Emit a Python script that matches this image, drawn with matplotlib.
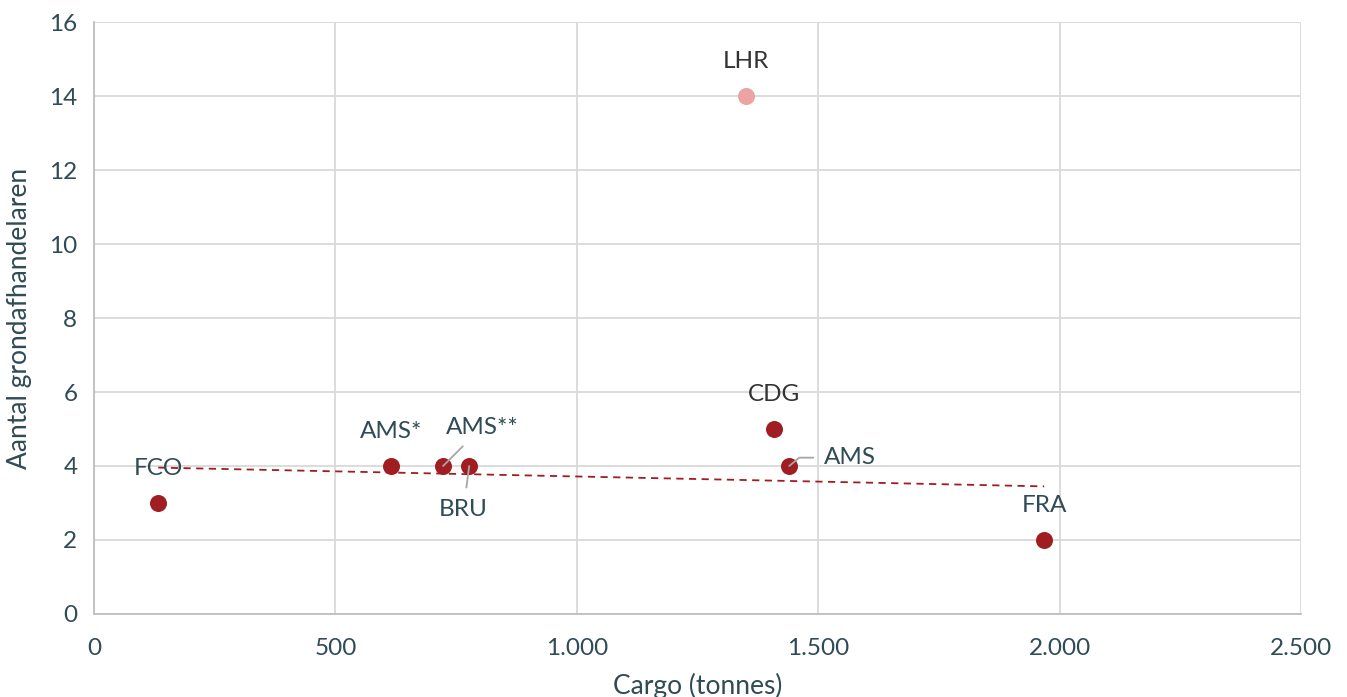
import numpy as np
import matplotlib.pyplot as plt
from matplotlib.ticker import FuncFormatter

# data
labels = ['FCO', 'AMS*', 'AMS**', 'BRU', 'LHR', 'CDG', 'AMS', 'FRA']
cargo = [133, 615, 723, 777, 1350, 1408, 1440, 1968]
handelaren = [3, 4, 4, 4, 14, 5, 4, 2]
highlight = [False, False, False, False, True, False, False, False]

red = '#A01E22'
pink = '#EBA3A3'
txt = '#2F4B55'

plt.rcParams['font.family'] = ['Lato', 'DejaVu Sans']

fig = plt.figure(figsize=(13.47, 6.97), dpi=100)
ax = fig.add_axes([0.0698, 0.1191, 0.8961, 0.8493])

x = np.array(cargo)
y = np.array(handelaren)
h = np.array(highlight)

ax.scatter(x[~h], y[~h], s=150, color=red, zorder=3, linewidths=0)
ax.scatter(x[h], y[h], s=150, color=pink, zorder=3, linewidths=0)

# linear trend over the dark points
k, b = np.polyfit(x[~h], y[~h], 1)
xt = np.array([x[~h].min(), x[~h].max()])
ax.plot(xt, k * xt + b, ls=(0, (4, 3)), color=red, lw=1.3, zorder=2)

# labels: offsets in points, leader line style
offs = {
    'FCO': (0, 25, None),
    'AMS*': (0, 25, None),
    'AMS**': (28, 28, 'arc3'),
    'BRU': (-4, -31, 'arc3'),
    'LHR': (0, 25, None),
    'CDG': (0, 25, None),
    'AMS': (44, 6, 'angle,angleA=0,angleB=40,rad=0'),
    'FRA': (0, 25, None),
}
for lab, xi, yi in zip(labels, cargo, handelaren):
    dx, dy, conn = offs[lab]
    col = '#333333' if lab in ('LHR', 'CDG') else txt
    kw = {}
    if conn:
        kw['arrowprops'] = dict(arrowstyle='-', color='#A6A6A6', lw=1.3,
                                shrinkA=6, shrinkB=0, connectionstyle=conn)
    ax.annotate(lab, (xi, yi), xytext=(dx, dy), textcoords='offset points',
                ha='center', va='center', fontsize=17.5, color=col, **kw)

ax.set_xlim(0, 2500)
ax.set_ylim(0, 16)
ax.set_xticks(np.arange(0, 2501, 500))
ax.set_yticks(np.arange(0, 17, 2))
ax.xaxis.set_major_formatter(FuncFormatter(lambda v, p: f'{int(v):,}'.replace(',', '.')))

ax.grid(True, color='#D9D9D9', lw=1.3)
ax.set_axisbelow(True)
for s in ['top', 'right']:
    ax.spines[s].set_visible(False)
for s in ['left', 'bottom']:
    ax.spines[s].set_color('#BFBFBF')
    ax.spines[s].set_linewidth(1.3)
ax.tick_params(length=0, labelsize=17.5, colors=txt)
ax.tick_params(axis='y', pad=12)
ax.tick_params(axis='x', pad=17)

ax.set_xlabel('Cargo (tonnes)', fontsize=19, color=txt, labelpad=10)
ax.set_ylabel('Aantal grondafhandelaren', fontsize=19, color=txt, labelpad=12)

fig.savefig('out.png', dpi=100)
